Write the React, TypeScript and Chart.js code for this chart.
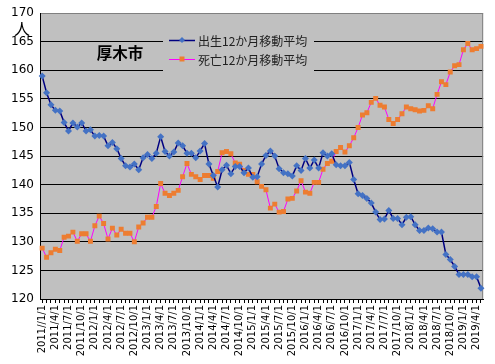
import React, { useEffect, useRef } from "react";
import { Chart, registerables } from "chart.js";

Chart.register(...registerables);

const startYear = 2011;
const monthCount = 101;
const categories: string[] = Array.from({ length: monthCount }, (_, i) => {
  const y = startYear + Math.floor(i / 12);
  const m = (i % 12) + 1;
  return `${y}/${m}/1`;
});

const tickLabels = [
  "2011//1/1", "2011/4/1", "2011/7/1", "2011/10/1",
  "2012/1/1", "2012/4/1", "2012/7/1", "2012/10/1",
  "2013/1/1", "2013/4/1", "2013/7/1", "2013/10/1",
  "2014/1/1", "2014/4/1", "2014/7/1", "2014/10/1",
  "2015/1/1", "2015/4/1", "2015/7/1", "2015/10/1",
  "2016/1/1", "2016/4/1", "2016/7/1", "2016/10/1",
  "2017/1/1", "2017/4/1", "2017/7/1", "2017/10/1",
  "2018/1/1", "2018/4/1", "2018/7/1", "2018/10/1",
  "2019/1/1", "2019/4/1",
];

const births = [
  159.0, 156.1, 154.0, 153.0, 152.9, 150.9, 149.4, 150.8, 150.1, 150.8,
  149.4, 149.6, 148.5, 148.6, 148.5, 146.8, 147.4, 146.3, 144.6, 143.3,
  143.1, 143.6, 142.6, 144.7, 145.3, 144.6, 145.5, 148.4, 145.8, 145.0,
  145.7, 147.3, 146.8, 145.5, 145.5, 144.7, 145.9, 147.2, 143.6, 141.6,
  139.6, 142.6, 143.4, 141.9, 143.2, 143.2, 142.1, 142.9, 141.3, 141.4,
  143.6, 145.1, 145.9, 145.0, 142.8, 142.1, 141.9, 141.5, 143.3, 142.5,
  144.6, 142.9, 144.3, 142.9, 145.6, 145.0, 145.4, 143.5, 143.3, 143.3,
  143.9, 140.9, 138.4, 138.1, 137.6, 136.8, 135.2, 133.9, 134.0, 135.5,
  134.1, 134.1, 133.0, 134.3, 134.4, 133.0, 132.0, 132.0, 132.4, 132.3,
  131.7, 131.7, 127.8, 126.9, 125.7, 124.3, 124.3, 124.3, 123.9, 123.9,
  121.9,
];

const deaths = [
  128.9, 127.3, 128.1, 128.7, 128.5, 130.8, 131.0, 131.7, 130.1, 131.4,
  131.4, 130.1, 132.8, 134.5, 133.2, 130.5, 132.4, 131.2, 132.2, 131.5,
  131.5, 130.0, 132.6, 133.3, 134.3, 134.3, 136.2, 140.2, 138.5, 138.1,
  138.5, 139.0, 141.4, 143.7, 141.8, 141.4, 140.9, 141.6, 141.6, 141.1,
  142.3, 145.6, 145.8, 145.4, 143.8, 143.6, 142.5, 141.8, 141.8, 140.5,
  139.7, 139.1, 135.9, 136.6, 135.2, 135.3, 137.5, 137.6, 138.9, 140.7,
  138.7, 138.5, 140.4, 140.4, 142.7, 143.7, 144.1, 145.8, 146.5, 145.7,
  146.8, 148.2, 150.0, 152.2, 152.6, 154.4, 155.1, 153.9, 153.6, 151.4,
  150.7, 151.4, 152.4, 153.6, 153.3, 153.1, 152.9, 153.0, 153.8, 153.3,
  155.8, 158.0, 157.5, 159.7, 160.8, 161.0, 163.6, 164.7, 163.6, 163.8,
  164.2,
];

const seriesNames = ["出生12か月移動平均", "死亡12か月移動平均"];
const cityName = "厚木市";
const unitLabel = "人";

const BG = "#C0C0C0";
const BIRTH_LINE = "#000080";
const BIRTH_MARK = "#4472C4";
const DEATH_LINE = "#FF00FF";
const DEATH_MARK = "#ED7D31";

const decorPlugin = {
  id: "decor",
  beforeDraw(chart: any) {
    const { ctx, chartArea: a } = chart;
    ctx.save();
    ctx.fillStyle = "#ffffff";
    ctx.fillRect(0, 0, chart.width, chart.height);
    ctx.fillStyle = BG;
    ctx.fillRect(a.left, a.top, a.right - a.left, a.bottom - a.top);
    ctx.restore();
  },
  beforeDatasetsDraw(chart: any) {
    const { ctx, chartArea: a } = chart;
    ctx.save();
    // right border
    ctx.strokeStyle = "#808080";
    ctx.lineWidth = 1;
    ctx.beginPath();
    ctx.moveTo(a.right - 0.5, a.top);
    ctx.lineTo(a.right - 0.5, a.bottom);
    ctx.stroke();
    // legend box
    const lx = 163, ly = 27, lw = 151, lh = 46;
    ctx.fillStyle = BG;
    ctx.fillRect(lx, ly, lw, lh);
    const items = [
      { y: 40, line: BIRTH_LINE, mark: BIRTH_MARK, shape: "diamond", text: seriesNames[0] },
      { y: 59, line: DEATH_LINE, mark: DEATH_MARK, shape: "square", text: seriesNames[1] },
    ];
    items.forEach((it) => {
      ctx.strokeStyle = it.line;
      ctx.lineWidth = it.shape === "diamond" ? 1.5 : 1;
      ctx.beginPath();
      ctx.moveTo(169, it.y + 0.5);
      ctx.lineTo(195, it.y + 0.5);
      ctx.stroke();
      ctx.fillStyle = it.mark;
      if (it.shape === "diamond") {
        ctx.beginPath();
        ctx.moveTo(182, it.y - 3);
        ctx.lineTo(185, it.y);
        ctx.lineTo(182, it.y + 3);
        ctx.lineTo(179, it.y);
        ctx.closePath();
        ctx.fill();
      } else {
        ctx.fillRect(179.5, it.y - 2.5, 5, 5);
      }
      ctx.fillStyle = "#202020";
      ctx.font = '12px "Noto Sans CJK JP"';
      ctx.textAlign = "left";
      ctx.textBaseline = "middle";
      ctx.fillText(it.text, 198, it.y + 1);
    });
    // title
    ctx.fillStyle = "#000000";
    ctx.font = 'bold 15.5px "Noto Sans CJK JP"';
    ctx.textAlign = "center";
    ctx.textBaseline = "middle";
    ctx.fillText(cityName, 120, 53);
    ctx.restore();
  },
  afterDraw(chart: any) {
    const { ctx } = chart;
    ctx.save();
    ctx.fillStyle = "#000000";
    ctx.font = '16px "Noto Sans CJK JP"';
    ctx.textAlign = "center";
    ctx.textBaseline = "middle";
    ctx.fillText(unitLabel, 22, 29);
    ctx.restore();
  },
};

export default function App() {
  const ref = useRef<HTMLCanvasElement | null>(null);
  useEffect(() => {
    if (!ref.current) return;
    const chart = new Chart(ref.current, {
      type: "line",
      data: {
        labels: categories,
        datasets: [
          {
            label: seriesNames[0],
            data: births,
            borderColor: BIRTH_LINE,
            borderWidth: 1.5,
            pointStyle: "rectRot",
            pointRadius: 3.5,
            pointBackgroundColor: BIRTH_MARK,
            pointBorderColor: BIRTH_MARK,
            pointBorderWidth: 0,
            tension: 0,
          },
          {
            label: seriesNames[1],
            data: deaths,
            borderColor: DEATH_LINE,
            borderWidth: 1,
            pointStyle: "rect",
            pointRadius: 3.5,
            pointBackgroundColor: DEATH_MARK,
            pointBorderColor: DEATH_MARK,
            pointBorderWidth: 0,
            tension: 0,
          },
        ],
      },
      options: {
        animation: false,
        responsive: false,
        maintainAspectRatio: false,
        devicePixelRatio: 1,
        layout: { padding: { top: 12, right: 8, left: 0, bottom: 0 } },
        plugins: {
          legend: { display: false },
          tooltip: { enabled: false },
          title: { display: false },
        },
        scales: {
          x: {
            type: "category",
            offset: true,
            grid: {
              display: true,
              drawOnChartArea: false,
              drawTicks: true,
              tickLength: 4,
              color: "#000000",
            },
            border: { display: true, color: "#000000", width: 1 },
            ticks: {
              autoSkip: false,
              minRotation: 90,
              maxRotation: 90,
              padding: 2,
              color: "#000000",
              font: { family: "DejaVu Sans", size: 10 },
              callback: (_v: any, i: number) => (i % 3 === 0 ? tickLabels[i / 3] ?? "" : ""),
            },
            afterFit: (s: any) => {
              s.height = 65;
            },
          },
          y: {
            min: 120,
            max: 170,
            grid: {
              drawTicks: false,
              color: (c: any) => (c.tick && c.tick.value === 170 ? "#808080" : "#000000"),
              lineWidth: 1,
            },
            border: { display: true, color: "#000000", width: 1 },
            ticks: {
              stepSize: 5,
              padding: 6,
              color: "#000000",
              font: { family: "DejaVu Sans", size: 12 },
            },
            afterFit: (s: any) => {
              s.width = 40;
            },
          },
        },
      },
      plugins: [decorPlugin],
    });
    return () => chart.destroy();
  }, []);
  return (
    <div style={{ position: "fixed", left: 0, top: 0, width: 495, height: 364, background: "#fff" }}>
      <canvas ref={ref} width={495} height={364} style={{ width: 495, height: 364, display: "block" }} />
    </div>
  );
}
